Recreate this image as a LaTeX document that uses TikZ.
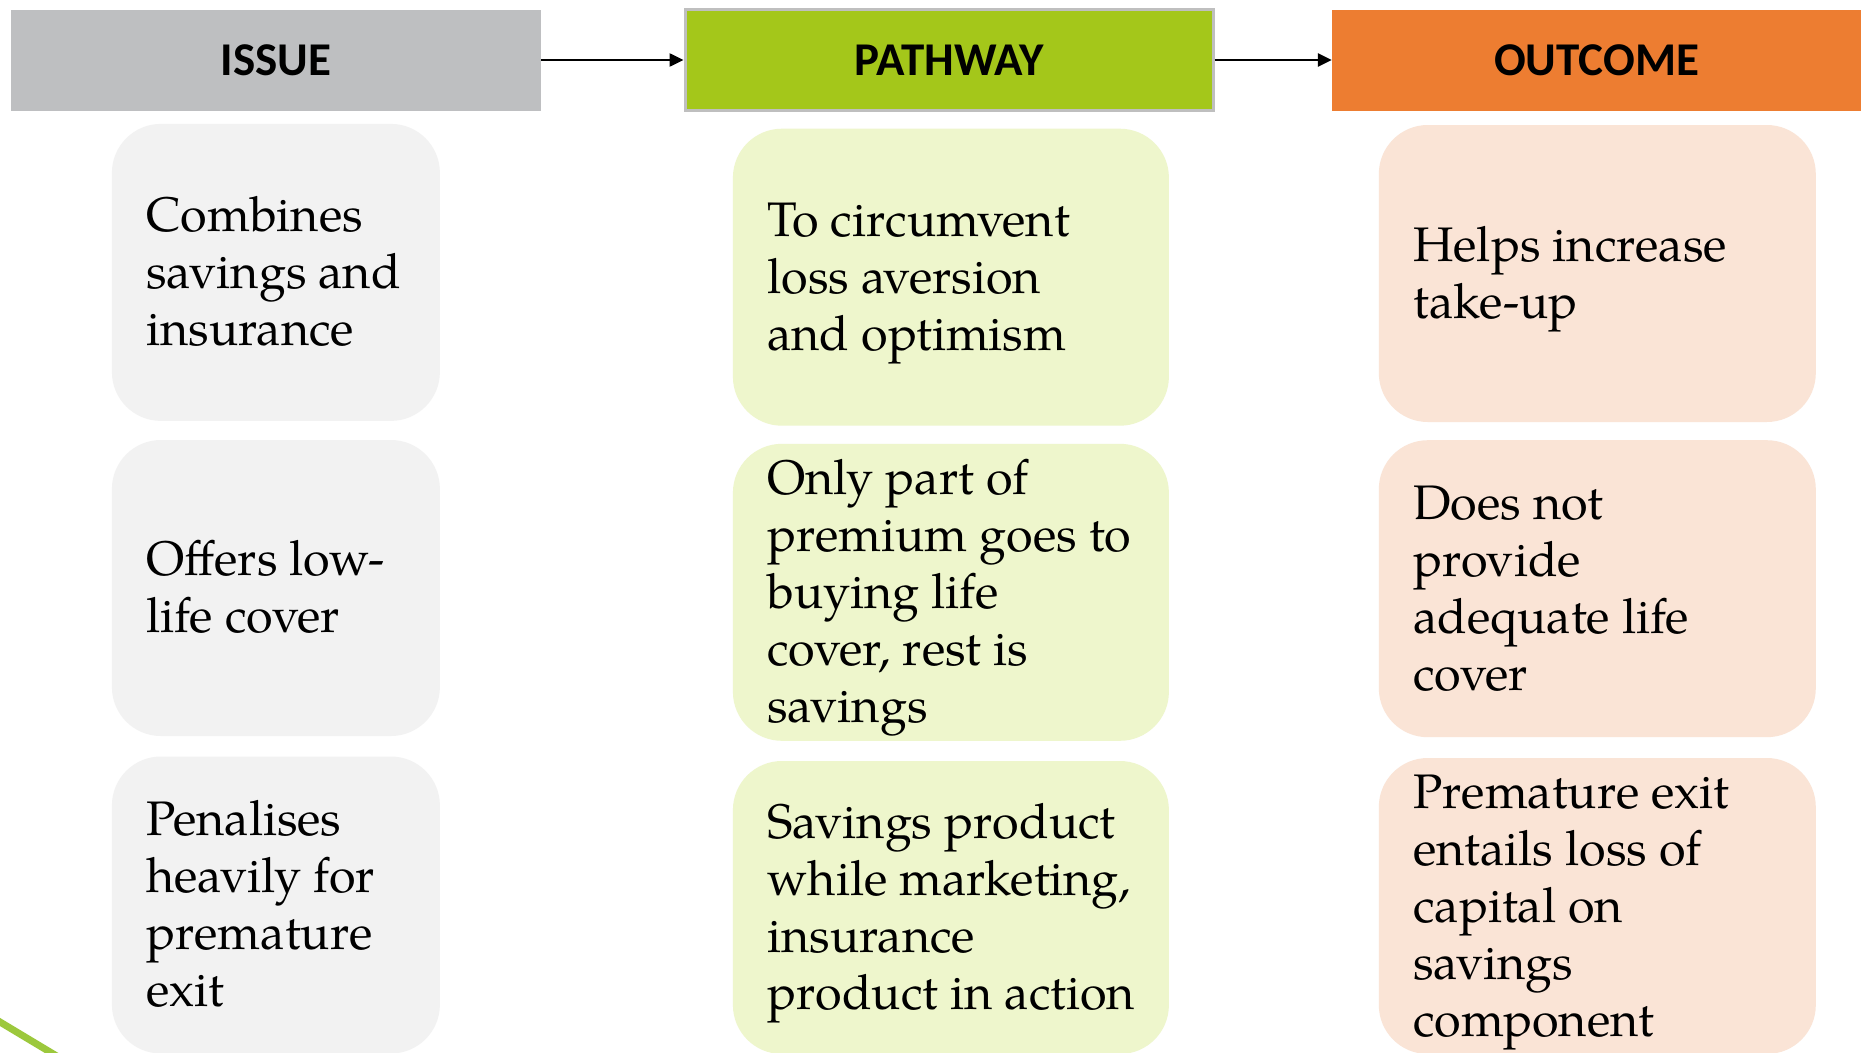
\documentclass[tikz,border=0pt]{standalone}
\usepackage{fontspec}
\setmainfont{TeX Gyre Pagella}
\newfontfamily\headfont{Carlito}
\usetikzlibrary{arrows.meta}

\definecolor{issuegrey}{HTML}{BEBFC1}
\definecolor{pathgreen}{HTML}{A4C71A}
\definecolor{outorange}{HTML}{ED7D31}
\definecolor{framegrey}{HTML}{BFBFBF}
\definecolor{cardgrey}{HTML}{F2F2F2}
\definecolor{cardgreen}{HTML}{EEF6CC}
\definecolor{cardorange}{HTML}{FAE4D6}
\definecolor{accentline}{HTML}{9CC83C}

\tikzset{
  x=1pt, y=-1pt,
  head/.style={inner sep=0pt, minimum height=101pt, text=black,
    font=\headfont\bfseries\fontsize{47}{56}\selectfont},
  card/.style={inner sep=0pt, rounded corners=49pt},
  body/.style={anchor=west, align=left, inner sep=0pt, text=black,
    font=\fontsize{48.5}{57}\selectfont},
  flow/.style={line width=2.5pt, -{Triangle[length=14pt,width=13pt]}},
}

\begin{document}
\begin{tikzpicture}
\useasboundingbox (0,0) rectangle (1865,1052);
\fill[white] (0,0) rectangle (1865,1052);

% decorative stroke in the lower left corner
\draw[accentline, line width=7pt] (-10,1016) -- (60,1058);

% column headers
\node[head, fill=issuegrey, minimum width=530pt] (issue) at (275.9,60) {ISSUE};
\node[head, fill=pathgreen, draw=framegrey, line width=3pt, minimum width=528pt] (path) at (949,60) {PATHWAY};
\node[head, fill=outorange, minimum width=529pt] (out) at (1596.5,60) {OUTCOME};

\draw[flow] (issue.east) -- (path.west);
\draw[flow] (path.east) -- (out.west);

% issue cards
\node[card, fill=cardgrey, minimum width=328pt, minimum height=297pt] (c11) at (275.9,272.4) {};
\node[card, fill=cardgrey, minimum width=328pt, minimum height=296pt] (c12) at (275.9,588) {};
\node[card, fill=cardgrey, minimum width=328pt, minimum height=297pt] (c13) at (275.9,905) {};

% pathway cards
\node[card, fill=cardgreen, minimum width=436pt, minimum height=297pt] (c21) at (950.9,277.2) {};
\node[card, fill=cardgreen, minimum width=436pt, minimum height=297pt] (c22) at (950.9,592.3) {};
\node[card, fill=cardgreen, minimum width=436pt, minimum height=293pt] (c23) at (950.9,907.5) {};

% outcome cards
\node[card, fill=cardorange, minimum width=437pt, minimum height=297pt] (c31) at (1597.3,273.5) {};
\node[card, fill=cardorange, minimum width=437pt, minimum height=297pt] (c32) at (1597.3,588.7) {};
\node[card, fill=cardorange, minimum width=437pt, minimum height=296pt] (c33) at (1597.3,906) {};

% card texts
\node[body] (t11) at ([xshift=34.5pt,yshift=-5pt]c11.west) {\strut Combines\\savings and\\insurance\strut};
\node[body] (t12) at ([xshift=34.5pt,yshift=-5pt]c12.west) {\strut Offers low-\\life cover\strut};
\node[body] (t13) at ([xshift=34.5pt,yshift=-5pt]c13.west) {\strut Penalises\\heavily for\\premature\\exit\strut};

\node[body] (t21) at ([xshift=34.5pt,yshift=-5pt]c21.west) {\strut To circumvent\\loss aversion\\and optimism\strut};
\node[body] (t22) at ([xshift=34.5pt,yshift=-5pt]c22.west) {\strut Only part of\\premium goes to\\buying life\\cover, rest is\\savings\strut};
\node[body] (t23) at ([xshift=34.5pt,yshift=-5pt]c23.west) {\strut Savings product\\while marketing,\\insurance\\product in action\strut};

\node[body] (t31) at ([xshift=34.5pt,yshift=-5pt]c31.west) {\strut Helps increase\\take-up\strut};
\node[body] (t32) at ([xshift=34.5pt,yshift=-5pt]c32.west) {\strut Does not\\provide\\adequate life\\cover\strut};
\node[body] (t33) at ([xshift=34.5pt,yshift=-5pt]c33.west) {\strut Premature exit\\entails loss of\\capital on\\savings\\component\strut};
\end{tikzpicture}
\end{document}
